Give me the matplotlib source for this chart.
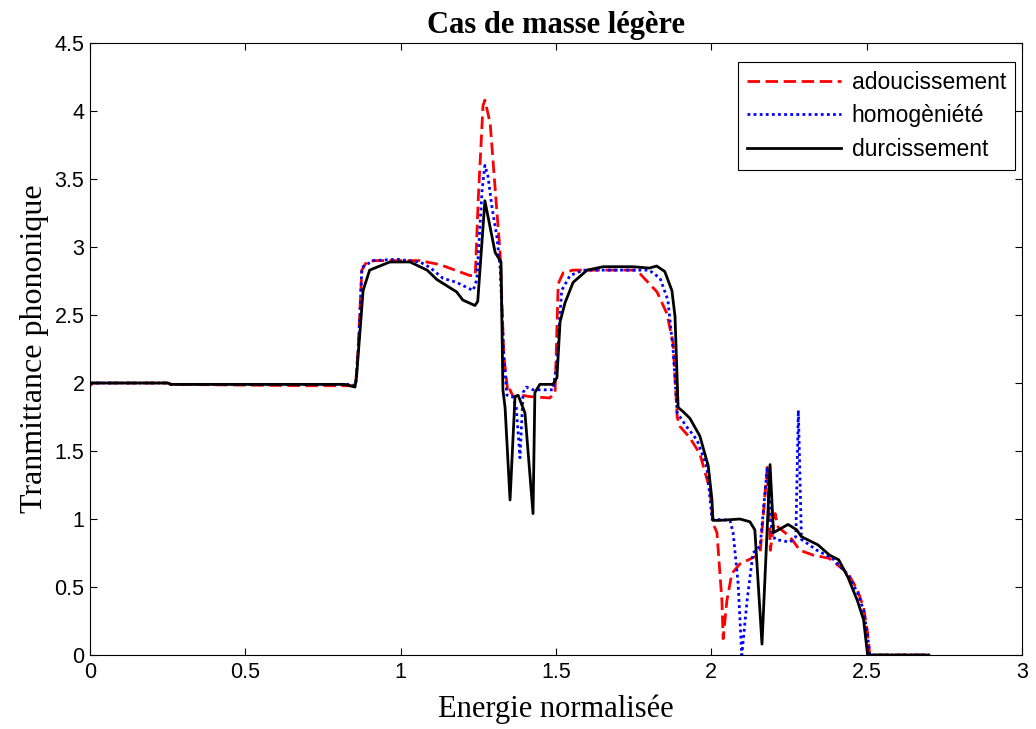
#Transmittance phononique - cas de masse legere
import matplotlib
matplotlib.use('Agg')
import matplotlib.pyplot as plt

# energie normalisee / transmittance
x_adou = [0, 0.01, 0.25, 0.26, 0.70, 0.84, 0.855, 0.863, 0.875, 0.89, 0.917, 1.062, 1.127, 1.223,
          1.24, 1.25, 1.265, 1.271, 1.288, 1.31, 1.32, 1.332, 1.345, 1.352, 1.362, 1.39, 1.416,
          1.48, 1.497, 1.507, 1.523, 1.555, 1.76, 1.78, 1.825, 1.857, 1.877, 1.89, 1.899, 1.93,
          1.963, 1.996, 2.005, 2.018, 2.034, 2.038, 2.05, 2.066, 2.092, 2.147, 2.157, 2.18, 2.19,
          2.205, 2.215, 2.253, 2.285, 2.327, 2.38, 2.44, 2.47, 2.49, 2.503, 2.51, 2.70]
y_adou = [1.98, 2.0, 2.0, 1.99, 1.98, 1.98, 1.98, 2.26, 2.83, 2.89, 2.90, 2.90, 2.87, 2.79,
          2.79, 3.37, 4.04, 4.08, 3.91, 3.25, 2.96, 2.2, 1.93, 1.95, 1.90, 1.91, 1.90,
          1.89, 1.93, 2.73, 2.81, 2.83, 2.83, 2.78, 2.67, 2.51, 2.29, 1.75, 1.68, 1.60,
          1.48, 1.21, 0.97, 0.90, 0.40, 0.12, 0.40, 0.60, 0.67, 0.73, 0.75, 1.38, 0.77,
          1.04, 0.94, 0.87, 0.77, 0.735, 0.71, 0.60, 0.48, 0.35, 0.16, 0.0, 0.0]

x_homo = [0, 0.25, 0.26, 0.84, 0.855, 0.865, 0.875, 0.911, 0.988, 1.062, 1.094, 1.136, 1.18,
          1.233, 1.245, 1.262, 1.271, 1.281, 1.294, 1.31, 1.32, 1.332, 1.342, 1.36, 1.372,
          1.384, 1.394, 1.404, 1.426, 1.49, 1.503, 1.513, 1.518, 1.545, 1.587, 1.80, 1.835,
          1.86, 1.877, 1.89, 1.92, 1.954, 1.986, 2.002, 2.06, 2.07, 2.086, 2.098, 2.115, 2.134,
          2.157, 2.18, 2.195, 2.205, 2.253, 2.272, 2.28, 2.29, 2.34, 2.39, 2.44, 2.47, 2.49,
          2.503, 2.51, 2.70]
y_homo = [2.0, 2.0, 1.99, 1.99, 1.98, 2.3, 2.85, 2.90, 2.91, 2.89, 2.85, 2.77, 2.74,
          2.68, 2.76, 3.42, 3.60, 3.52, 3.29, 3.07, 2.85, 2.2, 1.91, 1.90, 1.82,
          1.45, 1.93, 1.97, 1.95, 1.95, 2.15, 2.51, 2.68, 2.79, 2.83, 2.83, 2.77,
          2.61, 2.24, 1.78, 1.68, 1.58, 1.38, 1.0, 0.99, 0.90, 0.53, 0.0, 0.40, 0.75,
          0.80, 1.38, 0.90, 0.85, 0.83, 0.87, 1.80, 0.85, 0.77, 0.71, 0.59, 0.46, 0.33,
          0.14, 0.0, 0.0]

x_dur = [0, 0.25, 0.26, 0.82, 0.853, 0.858, 0.879, 0.90, 0.965, 1.03, 1.085, 1.117, 1.18, 1.20,
         1.239, 1.248, 1.271, 1.304, 1.323, 1.329, 1.336, 1.352, 1.368, 1.378, 1.40, 1.426,
         1.432, 1.448, 1.49, 1.503, 1.513, 1.529, 1.555, 1.60, 1.652, 1.748, 1.80, 1.824, 1.85,
         1.873, 1.883, 1.893, 1.909, 1.931, 1.963, 1.99, 2.002, 2.005, 2.028, 2.092, 2.124, 2.14,
         2.163, 2.189, 2.20, 2.247, 2.275, 2.29, 2.343, 2.38, 2.41, 2.44, 2.47, 2.49, 2.503, 2.70]
y_dur = [2.0, 2.0, 1.99, 1.99, 1.97, 2.05, 2.68, 2.83, 2.89, 2.89, 2.83, 2.76, 2.67, 2.61,
         2.57, 2.6, 3.34, 2.96, 2.89, 1.95, 1.82, 1.14, 1.90, 1.91, 1.78, 1.04,
         1.93, 1.99, 1.99, 2.04, 2.45, 2.59, 2.74, 2.83, 2.855, 2.855, 2.845, 2.86, 2.82,
         2.68, 2.49, 1.82, 1.79, 1.74, 1.61, 1.39, 1.14, 0.99, 0.99, 1.0, 0.98, 0.92,
         0.08, 1.40, 0.90, 0.96, 0.92, 0.87, 0.81, 0.735, 0.70, 0.57, 0.40, 0.26, 0.0, 0.0]

fig = plt.figure(figsize=(10.36, 7.29), dpi=100)
ax = fig.add_axes([0.0869, 0.1015, 0.8996, 0.8395])

ax.plot(x_adou, y_adou, color='red', linestyle=(0, (4.5, 2)), linewidth=2, label='adoucissement')
ax.plot(x_homo, y_homo, color='blue', linestyle=(0, (1, 1.2)), linewidth=2, label='homogèniété')
ax.plot(x_dur, y_dur, color='black', linewidth=2, label='durcissement')

ax.set_xlim(0, 3)
ax.set_ylim(0, 4.5)
ax.set_xticks([0, 0.5, 1, 1.5, 2, 2.5, 3])
ax.set_xticklabels(['0', '0.5', '1', '1.5', '2', '2.5', '3'])
ax.set_yticks([0, 0.5, 1, 1.5, 2, 2.5, 3, 3.5, 4, 4.5])
ax.set_yticklabels(['0', '0.5', '1', '1.5', '2', '2.5', '3', '3.5', '4', '4.5'])
ax.tick_params(direction='in', top=True, right=True, length=5, labelsize=15.5)
ax.tick_params(axis='x', pad=5)
ax.tick_params(axis='y', pad=4)
for lab in ax.get_xticklabels() + ax.get_yticklabels():
    lab.set_family('Liberation Sans')

ax.set_title('Cas de masse légère', family='Liberation Serif', fontweight='bold', fontsize=22, pad=7)
ax.set_xlabel('Energie normalisée', family='Liberation Serif', fontsize=22, labelpad=8)
ax.set_ylabel('Tranmittance phononique', family='Liberation Serif', fontsize=23, labelpad=4)

leg = ax.legend(loc='upper right', bbox_to_anchor=(1015 / 1036, 1 - 62 / 729),
                bbox_transform=fig.transFigure, borderaxespad=0,
                fancybox=False, edgecolor='black', framealpha=1,
                prop={'family': 'Liberation Sans', 'size': 16.5}, handlelength=4.1,
                handletextpad=0.45, borderpad=0.4, labelspacing=0.45)
leg.get_frame().set_linewidth(0.8)

plt.savefig('out.png', dpi=100)
